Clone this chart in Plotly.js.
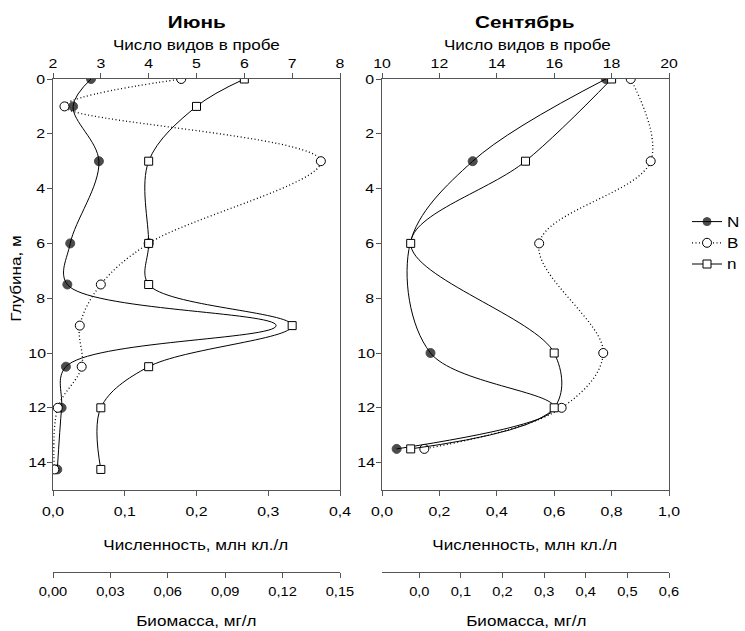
<!DOCTYPE html>
<html>
<head>
<meta charset="utf-8">
<script src="https://cdn.plot.ly/plotly-3.0.1.min.js"></script>
<style>html,body{margin:0;padding:0;background:#fff;}#chart{width:745px;height:631px;}</style>
</head>
<body>
<div id="chart"></div>
<script>
// June (Июнь)
var junDepth = [0, 1, 3, 6, 7.5, 9, 10.5, 12, 14.25];
var junN = [0.053, 0.028, 0.064, 0.024, 0.020, 0.311, 0.018, 0.012, 0.006];   // Численность, млн кл./л
var junB = [0.067, 0.006, 0.140, 0.050, 0.025, 0.014, 0.015, 0.0025, 0.0007]; // Биомасса, мг/л
var junSp = [6, 5, 4, 4, 4, 7, 4, 3, 3];                                        // Число видов
var junNMarker = [9, 9, 9, 9, 9, 0, 9, 9, 9];

// September (Сентябрь)
var sepDepth = [0, 3, 6, 10, 12, 13.5];
var sepN = [0.780, 0.316, 0.098, 0.169, 0.600, 0.051];
var sepB = [0.508, 0.556, 0.288, 0.442, 0.342, 0.012];
var sepSp = [18, 15, 11, 16, 16, 11];
var sepNMarker = [9, 9, 0, 9, 0, 9];

var FONT = 'Liberation Sans, Arial, sans-serif';
var AX = '#555555';
var STRETCH = 1.22;
var W = 745, H = 631;
function px(x){return x / W;}
function py(y){return 1 - y / H;}

var lineN = {color: '#000', width: 1, shape: 'spline', smoothing: 1};
var lineB = {color: '#000', width: 1.3, dash: '1px,2.5px', shape: 'spline', smoothing: 1};

var traces = [
  {name: 'N', x: junN, y: junDepth, xaxis: 'x', yaxis: 'y', mode: 'lines+markers', line: lineN,
   marker: {symbol: 'circle', size: junNMarker, color: '#000', line: {color: '#000', width: 1}}, legendgroup: 'N'},
  {name: 'B', x: junB, y: junDepth, xaxis: 'x2', yaxis: 'y', mode: 'lines+markers', line: lineB,
   marker: {symbol: 'circle', size: 9, color: '#fff', line: {color: '#000', width: 1}}, legendgroup: 'B'},
  {name: 'n', x: junSp, y: junDepth, xaxis: 'x3', yaxis: 'y', mode: 'lines+markers', line: lineN,
   marker: {symbol: 'square', size: 8, color: '#fff', line: {color: '#000', width: 1}}, legendgroup: 'n'},
  {name: 'N', x: sepN, y: sepDepth, xaxis: 'x4', yaxis: 'y2', mode: 'lines+markers', line: lineN, showlegend: false,
   marker: {symbol: 'circle', size: sepNMarker, color: '#000', line: {color: '#000', width: 1}}, legendgroup: 'N'},
  {name: 'B', x: sepB, y: sepDepth, xaxis: 'x5', yaxis: 'y2', mode: 'lines+markers', line: lineB, showlegend: false,
   marker: {symbol: 'circle', size: 9, color: '#fff', line: {color: '#000', width: 1}}, legendgroup: 'B'},
  {name: 'n', x: sepSp, y: sepDepth, xaxis: 'x6', yaxis: 'y2', mode: 'lines+markers', line: lineN, showlegend: false,
   marker: {symbol: 'square', size: 8, color: '#fff', line: {color: '#000', width: 1}}, legendgroup: 'n'}
];

var yDom = [py(490), py(79)];
var junDom = [px(53), px(340)];
var sepDom = [px(382), px(669)];
var bPos = py(572);

function xax(o){
  return Object.assign({showgrid: false, zeroline: false, showline: true, linecolor: AX, linewidth: 1,
    ticks: 'outside', ticklen: 5, tickcolor: AX, tickwidth: 1,
    tickfont: {family: FONT, size: 13, color: '#000'}, fixedrange: true}, o);
}
function yax(o){
  return Object.assign({showgrid: false, zeroline: false, showline: true, mirror: true, linecolor: AX, linewidth: 1,
    ticks: 'outside', ticklen: 5, tickcolor: AX, tickwidth: 1, range: [15, 0], tick0: 0, dtick: 2,
    domain: yDom, tickfont: {family: FONT, size: 13, color: '#000'}, fixedrange: true}, o);
}
var bTick = {family: FONT, size: 12, color: '#000'};

var layout = {
  width: W, height: H,
  margin: {l: 0, r: 0, t: 0, b: 0},
  paper_bgcolor: '#fff', plot_bgcolor: 'rgba(0,0,0,0)',
  separators: ', ',
  font: {family: FONT, size: 13, color: '#000'},
  showlegend: true,
  legend: {x: px(687), y: py(206), xanchor: 'left', yanchor: 'top', bgcolor: 'rgba(0,0,0,0)',
           font: {family: FONT, size: 14, color: '#000'}, tracegroupgap: 0, itemwidth: 30},
  xaxis: xax({domain: junDom, anchor: 'y', side: 'bottom', range: [0, 0.4], dtick: 0.1, tick0: 0, tickformat: '.1f', ticklabelstandoff: 4}),
  xaxis2: xax({domain: junDom, anchor: 'free', position: bPos, overlaying: 'x', side: 'bottom', range: [0, 0.15], dtick: 0.03, tick0: 0, tickformat: '.2f', ticklabelstandoff: 4, tickfont: bTick}),
  xaxis3: xax({domain: junDom, anchor: 'y', overlaying: 'x', side: 'top', range: [2, 8], dtick: 1, tick0: 0}),
  xaxis4: xax({domain: sepDom, anchor: 'y2', side: 'bottom', range: [0, 1], dtick: 0.2, tick0: 0, tickformat: '.1f', ticklabelstandoff: 4}),
  xaxis5: xax({domain: sepDom, anchor: 'free', position: bPos, overlaying: 'x4', side: 'bottom', range: [-0.0897, 0.6], dtick: 0.1, tick0: 0, tickformat: '.1f', ticklabelstandoff: 4, tickfont: bTick}),
  xaxis6: xax({domain: sepDom, anchor: 'y2', overlaying: 'x4', side: 'top', range: [10, 20], dtick: 2, tick0: 0}),
  yaxis: yax({anchor: 'x'}),
  yaxis2: yax({anchor: 'x4'}),
  annotations: [
    {text: '<b>Июнь</b>', x: px(196), y: py(22), font: {size: 17}},
    {text: '<b>Сентябрь</b>', x: px(525), y: py(22), font: {size: 17}},
    {text: 'Число видов в пробе', x: px(196), y: py(45), font: {size: 14}},
    {text: 'Число видов в пробе', x: px(527), y: py(45), font: {size: 14}},
    {text: 'Численность, млн кл./л', x: px(196), y: py(545), font: {size: 14}},
    {text: 'Численность, млн кл./л', x: px(525), y: py(545), font: {size: 14}},
    {text: 'Биомасса, мг/л', x: px(196), y: py(621), font: {size: 14}},
    {text: 'Биомасса, мг/л', x: px(526), y: py(621), font: {size: 14}},
    {text: 'Глубина, м', x: px(16), y: py(279), textangle: -90, font: {size: 14}}
  ].map(function(a){
    return Object.assign({xref: 'paper', yref: 'paper', showarrow: false, xanchor: 'center', yanchor: 'middle'},
      a, {font: Object.assign({family: FONT, color: '#000'}, a.font)});
  })
};

// The reference typography is horizontally wide; stretch each horizontal text about its centre.
function stretchTexts(){
  var texts = document.querySelectorAll('#chart svg text');
  texts.forEach(function(t){
    var tr = t.getAttribute('transform') || '';
    if (/rotate\(\s*-?[1-9]/.test(tr)) return;
    var b = t.getBBox();
    var cx = t.closest('.legend') ? b.x : b.x + b.width / 2;
    t.setAttribute('transform', (tr + ' translate(' + cx + ',0) scale(' + STRETCH + ',1) translate(' + (-cx) + ',0)').trim());
  });
}

Plotly.newPlot('chart', traces, layout, {staticPlot: true, displayModeBar: false}).then(stretchTexts);
</script>
</body>
</html>
